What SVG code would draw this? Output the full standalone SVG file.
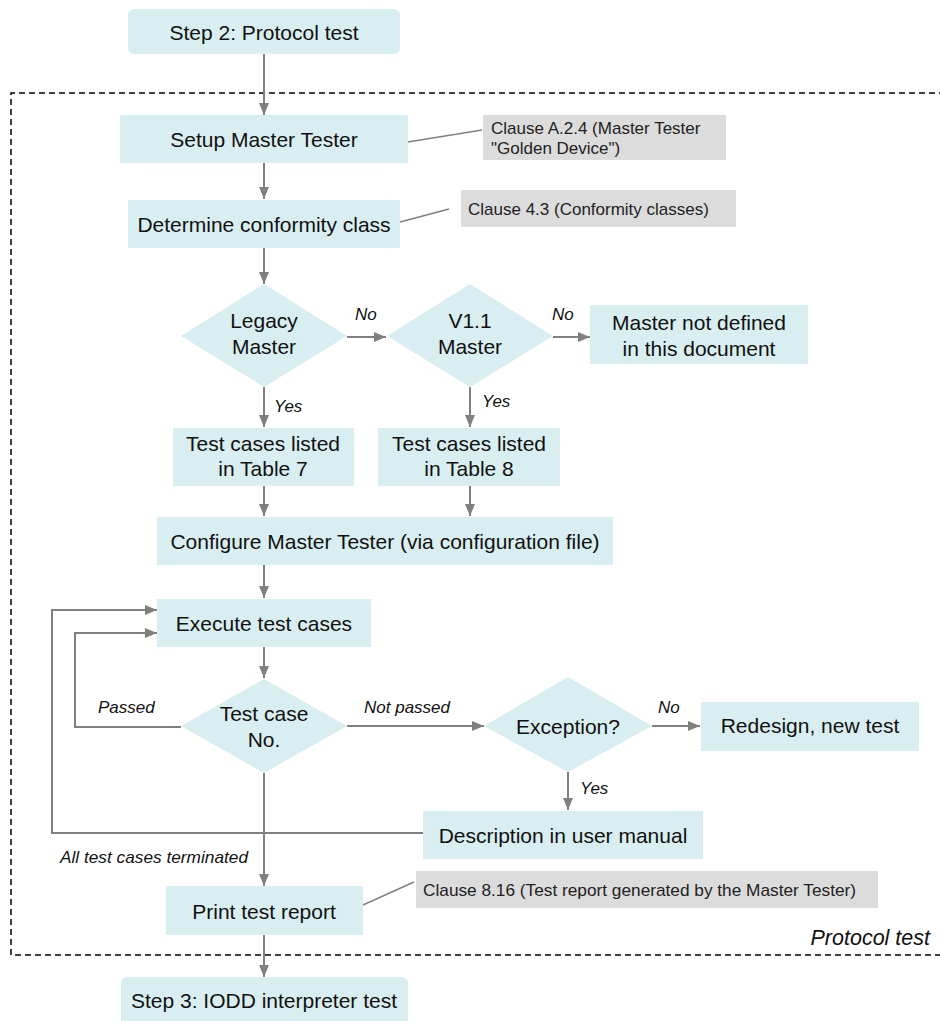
<svg xmlns="http://www.w3.org/2000/svg" width="940" height="1021" viewBox="0 0 940 1021">
  <defs>
    <marker id="arr" viewBox="0 0 12 10" refX="12" refY="5" markerWidth="12" markerHeight="10" markerUnits="userSpaceOnUse" orient="auto">
      <path d="M0,0 L12,5 L0,10 Z" fill="#808080"/>
    </marker>
    <style>
      .box { fill: #d9eef0; }
      .note { fill: #dcdcdc; }
      .t { font-family: "Liberation Sans", Arial, sans-serif; font-size: 21px; fill: #111; text-anchor: middle; }
      .n { font-family: "Liberation Sans", Arial, sans-serif; font-size: 17px; fill: #222; }
      .lbl { font-family: "Liberation Sans", Arial, sans-serif; font-size: 17px; font-style: italic; fill: #111; }
      .c { fill: none; stroke: #808080; stroke-width: 2; }
      .a { fill: none; stroke: #808080; stroke-width: 2; marker-end: url(#arr); }
      .thin { fill: none; stroke: #808080; stroke-width: 1.5; }
    </style>
  </defs>
  <rect width="940" height="1021" fill="#ffffff"/>

  <!-- frame of the protocol test phase -->
  <g id="frame">
    <path d="M945,93 L11,93 L11,955 L945,955" fill="none" stroke="#000" stroke-width="1.5" stroke-dasharray="6,4"/>
    <text class="lbl" x="930" y="945" text-anchor="end" style="font-size:21.5px">Protocol test</text>
  </g>

  <!-- connectors -->
  <g id="connectors">
    <line class="a" x1="264" y1="54" x2="264" y2="115"/>
    <line class="a" x1="264" y1="163" x2="264" y2="199"/>
    <line class="a" x1="264" y1="248" x2="264" y2="284"/>
    <line class="a" x1="347" y1="337" x2="386" y2="337"/>
    <line class="a" x1="553" y1="337" x2="590" y2="337"/>
    <line class="a" x1="264" y1="387" x2="264" y2="427"/>
    <line class="a" x1="470" y1="387" x2="470" y2="427"/>
    <line class="a" x1="264" y1="486" x2="264" y2="516"/>
    <line class="a" x1="470" y1="486" x2="470" y2="516"/>
    <line class="a" x1="264" y1="565" x2="264" y2="598"/>
    <line class="a" x1="264" y1="647" x2="264" y2="678"/>
    <polyline class="a" points="181,727 75,727 75,633 157,633"/>
    <polyline class="a" points="423,833 52,833 52,610 157,610"/>
    <line class="a" x1="347" y1="726" x2="484" y2="726"/>
    <line class="a" x1="652" y1="726" x2="700" y2="726"/>
    <line class="a" x1="568" y1="772" x2="568" y2="810"/>
    <line class="a" x1="264" y1="773" x2="264" y2="886"/>
    <line class="a" x1="264" y1="935" x2="264" y2="977"/>
    <!-- note leaders -->
    <line class="thin" x1="408" y1="142" x2="482" y2="130"/>
    <line class="thin" x1="400" y1="222" x2="449" y2="209"/>
    <line class="thin" x1="363" y1="905" x2="414" y2="882"/>
    <!-- branch labels -->
    <text class="lbl" x="355" y="320">No</text>
    <text class="lbl" x="552" y="320">No</text>
    <text class="lbl" x="274" y="412">Yes</text>
    <text class="lbl" x="482" y="407">Yes</text>
    <text class="lbl" x="98" y="713">Passed</text>
    <text class="lbl" x="364" y="713">Not passed</text>
    <text class="lbl" x="658" y="713">No</text>
    <text class="lbl" x="580" y="794">Yes</text>
    <text class="lbl" x="60" y="863" textLength="188" lengthAdjust="spacingAndGlyphs">All test cases terminated</text>
  </g>

  <g id="step2">
    <rect class="box" x="128" y="9" width="272" height="45" rx="6"/>
    <text class="t" x="264" y="40">Step 2: Protocol test</text>
  </g>

  <g id="setup">
    <rect class="box" x="120" y="115" width="288" height="48"/>
    <text class="t" x="264" y="147">Setup Master Tester</text>
  </g>

  <g id="note-a24">
    <rect class="note" x="483" y="115" width="243" height="45"/>
    <text class="n" x="491" y="134">Clause A.2.4 (Master Tester</text>
    <text class="n" x="491" y="154">"Golden Device")</text>
  </g>

  <g id="conformity">
    <rect class="box" x="128" y="200" width="272" height="48"/>
    <text class="t" x="264" y="232">Determine conformity class</text>
  </g>

  <g id="note-43">
    <rect class="note" x="461" y="190" width="275" height="37"/>
    <text class="n" x="468" y="215">Clause 4.3 (Conformity classes)</text>
  </g>

  <g id="legacy">
    <polygon class="box" points="264,284 347,336 264,387 181,336"/>
    <text class="t" x="264" y="328">Legacy</text>
    <text class="t" x="264" y="354">Master</text>
  </g>

  <g id="v11">
    <polygon class="box" points="470,284 553,336 470,387 387,336"/>
    <text class="t" x="470" y="328">V1.1</text>
    <text class="t" x="470" y="354">Master</text>
  </g>

  <g id="undefined">
    <rect class="box" x="590" y="305" width="218" height="59"/>
    <text class="t" x="699" y="330">Master not defined</text>
    <text class="t" x="699" y="356">in this document</text>
  </g>

  <g id="table7">
    <rect class="box" x="173" y="428" width="181" height="58"/>
    <text class="t" x="263" y="451">Test cases listed</text>
    <text class="t" x="263" y="476">in Table 7</text>
  </g>

  <g id="table8">
    <rect class="box" x="378" y="428" width="182" height="58"/>
    <text class="t" x="469" y="451">Test cases listed</text>
    <text class="t" x="469" y="476">in Table 8</text>
  </g>

  <g id="configure">
    <rect class="box" x="157" y="517" width="456" height="48"/>
    <text class="t" x="385" y="549">Configure Master Tester (via configuration file)</text>
  </g>

  <g id="execute">
    <rect class="box" x="157" y="599" width="214" height="48"/>
    <text class="t" x="264" y="631">Execute test cases</text>
  </g>

  <g id="testcase">
    <polygon class="box" points="264,679 347,726 264,773 181,726"/>
    <text class="t" x="264" y="721">Test case</text>
    <text class="t" x="264" y="747">No.</text>
  </g>

  <g id="exception">
    <polygon class="box" points="568,677 652,726 568,772 484,726"/>
    <text class="t" x="568" y="734">Exception?</text>
  </g>

  <g id="redesign">
    <rect class="box" x="701" y="702" width="218" height="49"/>
    <text class="t" x="810" y="733">Redesign, new test</text>
  </g>

  <g id="manual">
    <rect class="box" x="423" y="811" width="280" height="48"/>
    <text class="t" x="563" y="843">Description in user manual</text>
  </g>

  <g id="report">
    <rect class="box" x="166" y="886" width="197" height="49"/>
    <text class="t" x="264" y="919">Print test report</text>
  </g>

  <g id="note-816">
    <rect class="note" x="416" y="871" width="462" height="37"/>
    <text class="n" x="423" y="896" textLength="433" lengthAdjust="spacingAndGlyphs">Clause 8.16 (Test report generated by the Master Tester)</text>
  </g>

  <g id="step3">
    <rect class="box" x="121" y="977" width="287" height="50" rx="6"/>
    <text class="t" x="264" y="1008">Step 3: IODD interpreter test</text>
  </g>
</svg>
